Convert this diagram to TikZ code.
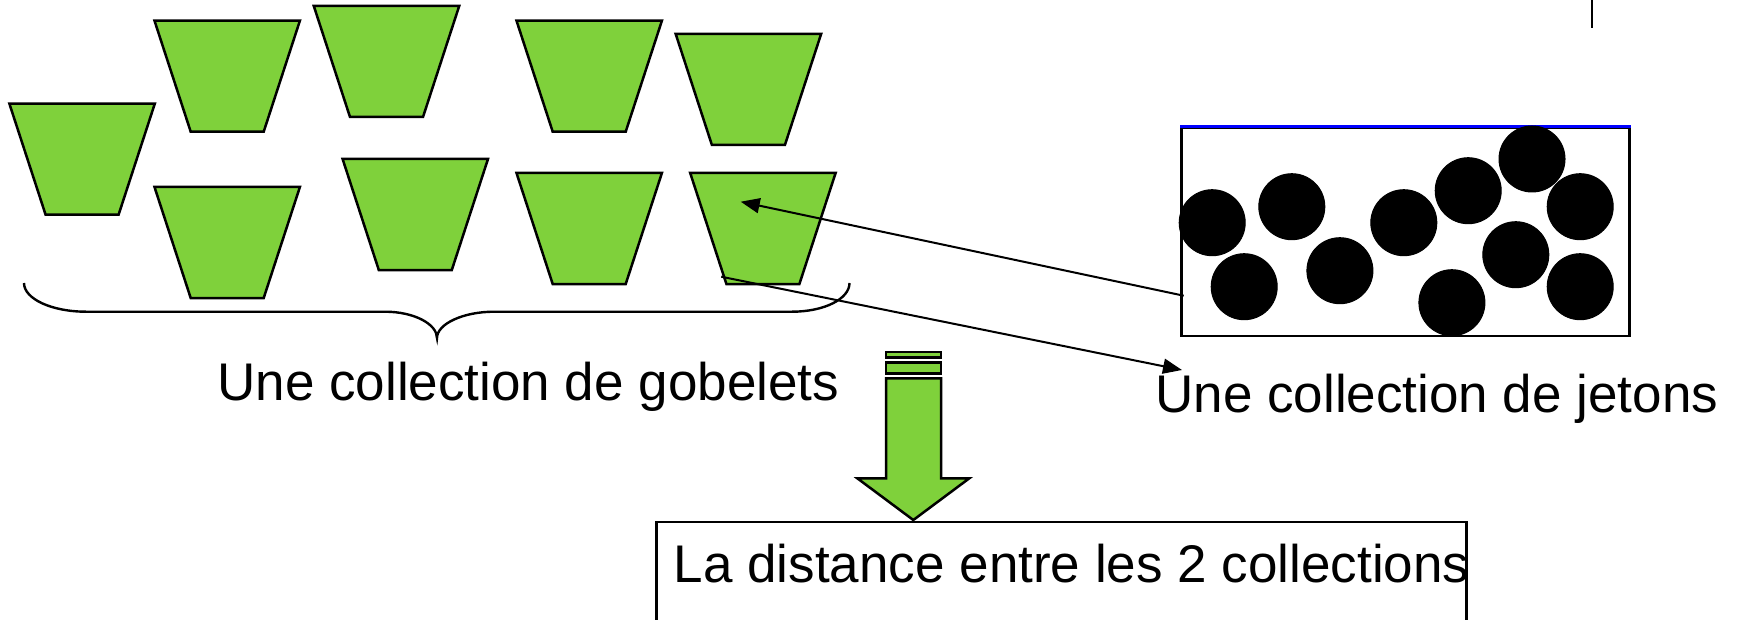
\documentclass[tikz,border=0pt]{standalone}
\usepackage{fontspec}
\setmainfont{Liberation Sans}
\usetikzlibrary{arrows.meta}
\definecolor{cupgreen}{RGB}{127,209,59}
\definecolor{edgeblue}{RGB}{0,0,255}
\begin{document}
\begin{tikzpicture}[x=0.5pt,y=-0.5pt,
  cupline/.style={draw=black,line width=1.25pt,fill=cupgreen,line join=miter},
  cup/.pic={
    \draw[cupline] (-72.7,0) -- (72.7,0) -- (36.5,111) -- (-36.5,111) -- cycle;
    \coordinate (-c) at (0,55);
  },
  token/.style={circle,fill=black,draw=black,line width=0.5pt,minimum size=33pt,inner sep=0pt},
  frame/.style={rectangle,draw=black,line width=1.2pt,inner sep=0pt,anchor=north west},
  link/.style={line width=1pt,-{Triangle[length=9.5pt,width=7.5pt]}},
  caption/.style={inner sep=0pt,anchor=base west,font=\fontsize{26.5pt}{32pt}\selectfont}
]
\useasboundingbox (0,0) rectangle (1738,620);
\clip (0,0) rectangle (1738,620);

% cups
\pic (cupA) at (82.1,103.7) {cup};
\pic (cupB) at (227.2,20.7) {cup};
\pic (cupC) at (386.5,6) {cup};
\pic (cupD) at (589.2,20.7) {cup};
\pic (cupE) at (748.4,34) {cup};
\pic (cupF) at (227.2,187) {cup};
\pic (cupG) at (415.3,159) {cup};
\pic (cupH) at (589.2,173) {cup};
\pic (cupI) at (762.9,173) {cup};

% brace under the cups
\draw[line width=1.2pt] (24,283) .. controls (24,299) and (52,311.7) .. (86,311.7)
  -- (385,311.7) .. controls (414,311.7) and (437,324) .. (437,338)
  .. controls (437,324) and (463,311.7) .. (494,311.7)
  -- (792,311.7) .. controls (824,311.7) and (849.5,299) .. (849.5,283);

\node[caption] (gtext) at (217,400) {Une collection de gobelets};

% box of tokens
\node[frame,minimum width=224pt,minimum height=104.15pt] (jbox) at (1180.3,126.7) {};
\draw[edgeblue,line width=1.3pt] (jbox.north west) -- (jbox.north east);

\node[token] (t1) at (1212.2,222.7) {};
\node[token] (t2) at (1291.8,206.7) {};
\node[token] (t3) at (1244.2,286.7) {};
\node[token] (t4) at (1339.9,270.7) {};
\node[token] (t5) at (1403.8,222.7) {};
\node[token] (t6) at (1468.2,190.7) {};
\node[token] (t7) at (1532,159) {};
\node[token] (t8) at (1580.2,206.7) {};
\node[token] (t9) at (1515.8,254.7) {};
\node[token] (t10) at (1451.9,302.7) {};
\node[token] (t11) at (1580.2,286.7) {};

\node[caption] (jtext) at (1155,412) {Une collection de jetons};

% short mark at the top right
\coordinate (markA) at (1592,0);
\coordinate (markB) at (1592,28.3);
\draw[line width=1.1pt] (markA) -- (markB);

% links between the two collections
\coordinate (boxside) at (1183.7,295.7);
\coordinate (cupIin) at (740.7,201.7);
\coordinate (cupIlow) at (721.2,276.7);
\coordinate (jtip) at (1182,370);
\draw[link] (boxside) -- (cupIin);
\draw[link] (cupIlow) -- (jtip);

% striped block arrow
\draw[cupline] (886,352) rectangle (941,357.3);
\draw[cupline] (886,362.3) rectangle (941,373.3);
\draw[cupline] (886,378.3) -- (941,378.3) -- (941,478.3) -- (969.3,478.3)
  -- (913.3,520) -- (857.3,478.3) -- (886,478.3) -- cycle;

% result box
\node[frame,minimum width=405pt,minimum height=70pt] (dbox) at (655.4,521) {};
\node[caption] (dtext) at (673.5,582) {La distance entre les 2 collections};
\end{tikzpicture}
\end{document}
